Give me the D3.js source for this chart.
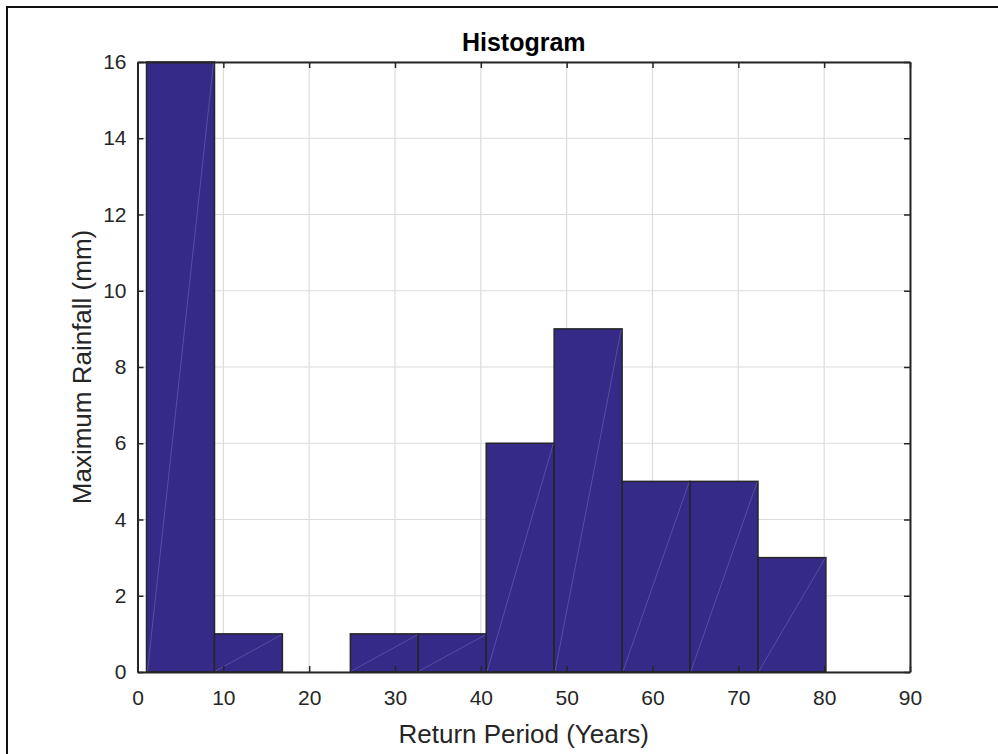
<!DOCTYPE html>
<html>
<head>
<meta charset="utf-8">
<script src="https://cdn.jsdelivr.net/npm/d3@7"></script>
<style>
  body { margin: 0; background: #fff; }
  svg { display: block; font-family: "Liberation Sans", Arial, sans-serif; }
</style>
</head>
<body>
<svg id="canvas" width="998" height="754"></svg>
<script>
// histogram bins
let binEdges = [1.05, 8.97, 16.88, 24.8, 32.71, 40.63, 48.54, 56.46, 64.37, 72.29, 80.2];
let counts = [16, 1, 0, 1, 1, 6, 9, 5, 5, 3];
let xTicks = [0, 10, 20, 30, 40, 50, 60, 70, 80, 90];
let yTicks = [0, 2, 4, 6, 8, 10, 12, 14, 16];

let bins = counts.map((c, i) => ({ x0: binEdges[i], x1: binEdges[i + 1], count: c }));

let svg = d3.select("#canvas");
let margin = { left: 137.5, right: 88, top: 62, bottom: 82 };
let width = 998 - margin.left - margin.right;
let height = 754 - margin.top - margin.bottom;

let axisColor = "#262626";
let gridColor = "#dcdcdc";

// outer figure frame (right and bottom edges fall outside the picture)
svg.append("rect")
  .attr("x", 7).attr("y", 7)
  .attr("width", 1100).attr("height", 800)
  .attr("fill", "none")
  .attr("stroke", "#111")
  .attr("stroke-width", 2);

let xScale = d3.scaleLinear().domain([0, 90]).range([0, width]);
let yScale = d3.scaleLinear().domain([0, 16]).range([height, 0]);

let g = svg.append("g").attr("transform", `translate(${margin.left},${margin.top})`);

// grid
g.selectAll(".vgrid")
  .data(xTicks)
  .enter()
  .append("line")
  .attr("x1", d => xScale(d)).attr("x2", d => xScale(d))
  .attr("y1", 0).attr("y2", height)
  .attr("stroke", gridColor).attr("stroke-width", 1.2);

g.selectAll(".hgrid")
  .data(yTicks)
  .enter()
  .append("line")
  .attr("x1", 0).attr("x2", width)
  .attr("y1", d => yScale(d)).attr("y2", d => yScale(d))
  .attr("stroke", gridColor).attr("stroke-width", 1.2);

// bars
g.selectAll(".bar")
  .data(bins)
  .enter()
  .append("rect")
  .attr("class", "bar")
  .attr("x", d => xScale(d.x0))
  .attr("y", d => yScale(d.count))
  .attr("width", d => xScale(d.x1) - xScale(d.x0))
  .attr("height", d => yScale(0) - yScale(d.count))
  .attr("fill", "#352a87")
  .attr("stroke", axisColor)
  .attr("stroke-width", 1.5);

// faint diagonal seams inside bars
g.selectAll(".seam")
  .data(bins.filter(d => d.count > 0))
  .enter()
  .append("line")
  .attr("x1", d => xScale(d.x0) + 1)
  .attr("y1", yScale(0) - 1)
  .attr("x2", d => xScale(d.x1) - 1)
  .attr("y2", d => yScale(d.count) + 1)
  .attr("stroke", "#7d76c0")
  .attr("stroke-width", 0.6)
  .attr("opacity", 0.8);

// axes (ticks pointing inward, box on all sides)
let tickLen = 6;
let xAxisBottom = d3.axisBottom(xScale).tickValues(xTicks).tickSizeInner(-tickLen).tickSizeOuter(0).tickPadding(18);
let xAxisTop = d3.axisTop(xScale).tickValues(xTicks).tickSizeInner(-tickLen).tickSizeOuter(0).tickFormat("");
let yAxisLeft = d3.axisLeft(yScale).tickValues(yTicks).tickSizeInner(-tickLen).tickSizeOuter(0).tickPadding(11);
let yAxisRight = d3.axisRight(yScale).tickValues(yTicks).tickSizeInner(-tickLen).tickSizeOuter(0).tickFormat("");

let styleAxis = (sel) => {
  sel.select(".domain").attr("stroke", axisColor).attr("stroke-width", 2);
  sel.selectAll(".tick line").attr("stroke", axisColor).attr("stroke-width", 1.5);
  sel.selectAll(".tick text").attr("fill", axisColor).attr("font-size", "21px");
};

g.append("g").attr("transform", `translate(0,${height})`).call(xAxisBottom).call(styleAxis);
g.append("g").call(xAxisTop).call(styleAxis);
g.append("g").call(yAxisLeft).call(styleAxis);
g.append("g").attr("transform", `translate(${width},0)`).call(yAxisRight).call(styleAxis);

// title and labels
svg.append("text")
  .attr("x", margin.left + width / 2)
  .attr("y", 51)
  .attr("text-anchor", "middle")
  .attr("font-size", "25px")
  .attr("font-weight", "bold")
  .attr("fill", "#000")
  .text("Histogram");

svg.append("text")
  .attr("x", margin.left + width / 2)
  .attr("y", 743)
  .attr("text-anchor", "middle")
  .attr("font-size", "26px")
  .attr("fill", axisColor)
  .text("Return Period (Years)");

svg.append("text")
  .attr("transform", `translate(91,${margin.top + height / 2}) rotate(-90)`)
  .attr("text-anchor", "middle")
  .attr("font-size", "26px")
  .attr("fill", axisColor)
  .text("Maximum Rainfall (mm)");
</script>
</body>
</html>
